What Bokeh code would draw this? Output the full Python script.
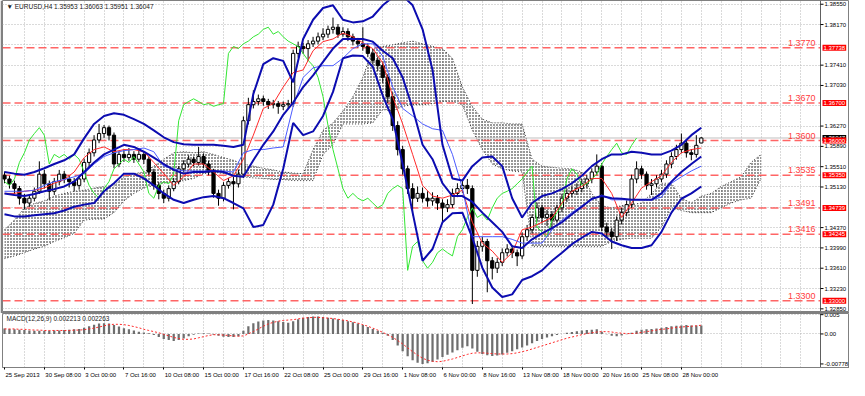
from bokeh.plotting import figure
from bokeh.layouts import column
from bokeh.models import Range1d, FixedTicker, Label, Grid, LinearAxis
from bokeh.core.properties import value
from bokeh.embed import file_html
from bokeh.resources import INLINE

FONT = "Liberation Sans"

chart_title = "\u25bc EURUSD,H4  1.35953 1.36063 1.35951 1.36047"
macd_title = "MACD(12,26,9) 0.002213 0.002263"

# ---- time axis (H4 bar index) ----
time_tick_bars = [0, 16, 32, 48, 64, 80, 96, 112, 128, 144, 160, 176, 192, 208, 224, 240, 256, 272]
time_tick_labels = ["25 Sep 2013", "30 Sep 08:00", "3 Oct 00:00", "7 Oct 16:00", "10 Oct 08:00",
                    "15 Oct 00:00", "17 Oct 16:00", "22 Oct 08:00", "25 Oct 00:00", "29 Oct 16:00",
                    "1 Nov 08:00", "6 Nov 00:00", "8 Nov 16:00", "13 Nov 08:00", "18 Nov 00:00",
                    "20 Nov 16:00", "25 Nov 08:00", "28 Nov 00:00"]
grid_bars = list(range(8, 328, 8))

# ---- price scale ----
price_ticks = [1.3855, 1.3817, 1.3741, 1.3703, 1.3627, 1.3589, 1.3551, 1.3513,
               1.3437, 1.3399, 1.3361, 1.3323, 1.3285]
price_grid = [1.3855, 1.3817, 1.3779, 1.3741, 1.3703, 1.3665, 1.3627, 1.3589, 1.3551,
              1.3513, 1.3475, 1.3437, 1.3399, 1.3361, 1.3323, 1.3285]
level_prices = [1.37738, 1.36700, 1.36000, 1.35350, 1.34739, 1.34245, 1.33000]
level_texts = ["1.3770", "1.3670", "1.3600", "1.3535", "1.3491", "1.3416", "1.3300"]
level_box_texts = ["1.37738", "1.36700", "1.36000", "1.35350", "1.34739", "1.34245", "1.33000"]
current_price = 1.36047
current_price_text = "1.36047"

# ---- candles (one candle per 2 H4 bars) ----
candle_open = [
    1.3535, 1.3528, 1.3519, 1.3510, 1.3492, 1.3483, 1.3492, 1.3505, 1.3537, 1.3519,
    1.3505, 1.3523, 1.3537, 1.3528, 1.3523, 1.3516, 1.3528, 1.3559, 1.3577, 1.3601,
    1.3613, 1.3624, 1.3610, 1.3556, 1.3574, 1.3568, 1.3574, 1.3565, 1.3574, 1.3565,
    1.3541, 1.3516, 1.3501, 1.3492, 1.3510, 1.3523, 1.3547, 1.3556, 1.3565, 1.3559,
    1.3570, 1.3556, 1.3541, 1.3501, 1.3492, 1.3516, 1.3523, 1.3519, 1.3537, 1.3637,
    1.3667, 1.3673, 1.3678, 1.3673, 1.3667, 1.3669, 1.3664, 1.3667, 1.3669, 1.3763,
    1.3776, 1.3772, 1.3781, 1.3786, 1.3794, 1.3799, 1.3808, 1.3812, 1.3799, 1.3804,
    1.3794, 1.3786, 1.3781, 1.3776, 1.3763, 1.3750, 1.3740, 1.3718, 1.3682, 1.3628,
    1.3583, 1.3547, 1.3510, 1.3492, 1.3501, 1.3492, 1.3487, 1.3492, 1.3483, 1.3474,
    1.3480, 1.3501, 1.3510, 1.3516, 1.3510, 1.3357, 1.3402, 1.3411, 1.3375, 1.3361,
    1.3372, 1.3390, 1.3397, 1.3390, 1.3384, 1.3420, 1.3433, 1.3456, 1.3474, 1.3456,
    1.3462, 1.3451, 1.3474, 1.3492, 1.3501, 1.3505, 1.3510, 1.3519, 1.3528, 1.3541,
    1.3552, 1.3438, 1.3429, 1.3420, 1.3451, 1.3465, 1.3480, 1.3528, 1.3547, 1.3537,
    1.3516, 1.3519, 1.3528, 1.3537, 1.3556, 1.3570, 1.3583, 1.3595, 1.3577, 1.3574,
    1.35953]
candle_high = [
    1.3542, 1.3534, 1.3525, 1.3515, 1.3500, 1.3498, 1.3512, 1.3561, 1.3545, 1.3525,
    1.3530, 1.3545, 1.3543, 1.3535, 1.3530, 1.3534, 1.3566, 1.3585, 1.3610, 1.3631,
    1.3629, 1.3628, 1.3615, 1.3580, 1.3583, 1.3586, 1.3580, 1.3583, 1.3580, 1.3570,
    1.3547, 1.3522, 1.3508, 1.3516, 1.3530, 1.3552, 1.3563, 1.3572, 1.3570, 1.3588,
    1.3576, 1.3562, 1.3547, 1.3508, 1.3522, 1.3530, 1.3532, 1.3545, 1.3645, 1.3680,
    1.3694, 1.3686, 1.3684, 1.3678, 1.3676, 1.3674, 1.3673, 1.3676, 1.3770, 1.3785,
    1.3783, 1.3788, 1.3794, 1.3802, 1.3810, 1.3815, 1.3830, 1.3818, 1.3812, 1.3810,
    1.3800, 1.3792, 1.3812, 1.3782, 1.3770, 1.3756, 1.3746, 1.3724, 1.3690, 1.3636,
    1.3590, 1.3553, 1.3520, 1.3514, 1.3512, 1.3505, 1.3503, 1.3498, 1.3490, 1.3490,
    1.3510, 1.3520, 1.3526, 1.3528, 1.3516, 1.3412, 1.3420, 1.3416, 1.3382, 1.3380,
    1.3398, 1.3406, 1.3404, 1.3396, 1.3428, 1.3442, 1.3462, 1.3484, 1.3480, 1.3470,
    1.3468, 1.3480, 1.3500, 1.3510, 1.3515, 1.3520, 1.3528, 1.3536, 1.3548, 1.3574,
    1.3558, 1.3446, 1.3436, 1.3458, 1.3474, 1.3488, 1.3536, 1.3561, 1.3553, 1.3542,
    1.3528, 1.3535, 1.3545, 1.3563, 1.3578, 1.3592, 1.3613, 1.3602, 1.3584, 1.3610,
    1.36063]
candle_low = [
    1.3520, 1.3510, 1.3500, 1.3480, 1.3471, 1.3476, 1.3486, 1.3500, 1.3510, 1.3489,
    1.3498, 1.3516, 1.3520, 1.3512, 1.3505, 1.3508, 1.3522, 1.3550, 1.3570, 1.3595,
    1.3605, 1.3600, 1.3548, 1.3550, 1.3560, 1.3562, 1.3558, 1.3560, 1.3556, 1.3535,
    1.3508, 1.3490, 1.3483, 1.3486, 1.3505, 1.3518, 1.3540, 1.3550, 1.3552, 1.3553,
    1.3548, 1.3535, 1.3493, 1.3478, 1.3486, 1.3510, 1.3471, 1.3512, 1.3530, 1.3630,
    1.3660, 1.3666, 1.3665, 1.3659, 1.3660, 1.3650, 1.3657, 1.3660, 1.3663, 1.3755,
    1.3762, 1.3749, 1.3775, 1.3780, 1.3788, 1.3792, 1.3800, 1.3792, 1.3794, 1.3786,
    1.3778, 1.3774, 1.3768, 1.3756, 1.3742, 1.3730, 1.3708, 1.3670, 1.3618, 1.3572,
    1.3536, 1.3500, 1.3460, 1.3485, 1.3484, 1.3476, 1.3478, 1.3470, 1.3447, 1.3466,
    1.3474, 1.3494, 1.3502, 1.3500, 1.3294, 1.3345, 1.3392, 1.3316, 1.3340, 1.3352,
    1.3365, 1.3383, 1.3380, 1.3365, 1.3378, 1.3412, 1.3426, 1.3448, 1.3446, 1.3440,
    1.3436, 1.3446, 1.3466, 1.3485, 1.3494, 1.3498, 1.3503, 1.3512, 1.3520, 1.3535,
    1.3430, 1.3418, 1.3397, 1.3412, 1.3443, 1.3458, 1.3474, 1.3520, 1.3528, 1.3508,
    1.3498, 1.3512, 1.3522, 1.3530, 1.3548, 1.3564, 1.3576, 1.3568, 1.3563, 1.3568,
    1.35951]
candle_close = [
    1.3528, 1.3519, 1.3510, 1.3492, 1.3483, 1.3492, 1.3505, 1.3537, 1.3519, 1.3505,
    1.3523, 1.3537, 1.3528, 1.3523, 1.3516, 1.3528, 1.3559, 1.3577, 1.3601, 1.3613,
    1.3624, 1.3610, 1.3556, 1.3574, 1.3568, 1.3574, 1.3565, 1.3574, 1.3565, 1.3541,
    1.3516, 1.3501, 1.3492, 1.3510, 1.3523, 1.3547, 1.3556, 1.3565, 1.3559, 1.3570,
    1.3556, 1.3541, 1.3501, 1.3492, 1.3516, 1.3523, 1.3519, 1.3537, 1.3637, 1.3667,
    1.3673, 1.3678, 1.3673, 1.3667, 1.3669, 1.3664, 1.3667, 1.3669, 1.3763, 1.3776,
    1.3772, 1.3781, 1.3786, 1.3794, 1.3799, 1.3808, 1.3812, 1.3799, 1.3804, 1.3794,
    1.3786, 1.3781, 1.3776, 1.3763, 1.3750, 1.3740, 1.3718, 1.3682, 1.3628, 1.3583,
    1.3547, 1.3510, 1.3492, 1.3501, 1.3492, 1.3487, 1.3492, 1.3483, 1.3474, 1.3480,
    1.3501, 1.3510, 1.3516, 1.3510, 1.3357, 1.3402, 1.3411, 1.3375, 1.3361, 1.3372,
    1.3390, 1.3397, 1.3390, 1.3384, 1.3420, 1.3433, 1.3456, 1.3474, 1.3456, 1.3462,
    1.3451, 1.3474, 1.3492, 1.3501, 1.3505, 1.3510, 1.3519, 1.3528, 1.3541, 1.3552,
    1.3438, 1.3429, 1.3420, 1.3451, 1.3465, 1.3480, 1.3528, 1.3547, 1.3537, 1.3516,
    1.3519, 1.3528, 1.3537, 1.3556, 1.3570, 1.3583, 1.3595, 1.3577, 1.3574, 1.3591,
    1.36047]
candle_bar = [2 * k for k in range(len(candle_close))]

# ---- indicator lines (sampled every 4 H4 bars) ----
bb_upper = [
    1.3541, 1.3538, 1.3536, 1.3541, 1.3548, 1.3556, 1.3563, 1.3574, 1.3604, 1.3631,
    1.3646, 1.3651, 1.3648, 1.3640, 1.3631, 1.3619, 1.3606, 1.3597, 1.3593, 1.3592,
    1.3592, 1.3592, 1.3590, 1.3588, 1.3592, 1.3687, 1.3743, 1.3754, 1.3749, 1.3709,
    1.3790, 1.3826, 1.3848, 1.3853, 1.3826, 1.3821, 1.3823, 1.3832, 1.3853, 1.3868,
    1.3871, 1.3853, 1.3808, 1.3732, 1.3592, 1.3529, 1.3525, 1.3552, 1.3568, 1.3570,
    1.3552, 1.3492, 1.3456, 1.3483, 1.3496, 1.3501, 1.3509, 1.3520, 1.3534, 1.3552,
    1.3565, 1.3574, 1.3574, 1.3579, 1.3577, 1.3574, 1.3574, 1.3581, 1.3592, 1.3610, 1.3624]
bb_middle = [
    1.3501, 1.3498, 1.3496, 1.3500, 1.3505, 1.3509, 1.3514, 1.3523, 1.3541, 1.3559,
    1.3574, 1.3583, 1.3592, 1.3588, 1.3579, 1.3568, 1.3556, 1.3545, 1.3538, 1.3541,
    1.3541, 1.3543, 1.3541, 1.3534, 1.3532, 1.3563, 1.3592, 1.3617, 1.3648, 1.3671,
    1.3700, 1.3722, 1.3747, 1.3772, 1.3790, 1.3790, 1.3790, 1.3785, 1.3768, 1.3754,
    1.3718, 1.3660, 1.3592, 1.3565, 1.3520, 1.3496, 1.3496, 1.3485, 1.3465, 1.3447,
    1.3429, 1.3402, 1.3399, 1.3415, 1.3426, 1.3436, 1.3447, 1.3462, 1.3476, 1.3491,
    1.3496, 1.3492, 1.3491, 1.3489, 1.3489, 1.3489, 1.3501, 1.3523, 1.3541, 1.3556, 1.3570]
bb_lower = [
    1.3462, 1.3458, 1.3458, 1.3460, 1.3462, 1.3464, 1.3469, 1.3476, 1.3480, 1.3483,
    1.3505, 1.3520, 1.3538, 1.3538, 1.3529, 1.3516, 1.3501, 1.3489, 1.3483, 1.3489,
    1.3494, 1.3496, 1.3492, 1.3483, 1.3473, 1.3438, 1.3442, 1.3480, 1.3547, 1.3633,
    1.3610, 1.3617, 1.3646, 1.3691, 1.3754, 1.3759, 1.3758, 1.3738, 1.3684, 1.3640,
    1.3556, 1.3465, 1.3375, 1.3397, 1.3447, 1.3464, 1.3465, 1.3418, 1.3362, 1.3325,
    1.3307, 1.3312, 1.3339, 1.3346, 1.3357, 1.3375, 1.3390, 1.3406, 1.3418, 1.3429,
    1.3426, 1.3411, 1.3404, 1.3399, 1.3399, 1.3404, 1.3429, 1.3465, 1.3491, 1.3501, 1.3514]
tenkan = [
    1.3501, 1.3501, 1.3505, 1.3507, 1.3511, 1.3520, 1.3527, 1.3541, 1.3568, 1.3583,
    1.3588, 1.3579, 1.3583, 1.3583, 1.3579, 1.3559, 1.3538, 1.3516, 1.3532, 1.3556,
    1.3556, 1.3541, 1.3525, 1.3534, 1.3565, 1.3610, 1.3660, 1.3669, 1.3700, 1.3727,
    1.3732, 1.3768, 1.3785, 1.3790, 1.3801, 1.3794, 1.3783, 1.3772, 1.3745, 1.3682,
    1.3631, 1.3574, 1.3516, 1.3496, 1.3492, 1.3498, 1.3507, 1.3447, 1.3408, 1.3393,
    1.3372, 1.3390, 1.3433, 1.3438, 1.3447, 1.3456, 1.3483, 1.3505, 1.3514, 1.3529,
    1.3529, 1.3501, 1.3456, 1.3483, 1.3511, 1.3523, 1.3534, 1.3559, 1.3577, 1.3583, 1.3586]
kijun = [
    1.3505, 1.3505, 1.3505, 1.3507, 1.3516, 1.3523, 1.3527, 1.3532, 1.3538, 1.3556,
    1.3570, 1.3577, 1.3581, 1.3583, 1.3586, 1.3579, 1.3552, 1.3547, 1.3543, 1.3543,
    1.3543, 1.3543, 1.3543, 1.3541, 1.3577, 1.3583, 1.3583, 1.3586, 1.3588, 1.3664,
    1.3718, 1.3736, 1.3740, 1.3740, 1.3754, 1.3772, 1.3781, 1.3781, 1.3758, 1.3700,
    1.3660, 1.3646, 1.3631, 1.3622, 1.3619, 1.3574, 1.3511, 1.3420, 1.3420, 1.3420,
    1.3420, 1.3415, 1.3408, 1.3408, 1.3408, 1.3433, 1.3451, 1.3465, 1.3478, 1.3489,
    1.3498, 1.3489, 1.3489, 1.3489, 1.3489, 1.3489, 1.3494, 1.3520, 1.3532, 1.3543, 1.3552]
ind_bar = [4 * j for j in range(len(bb_upper))]

# ---- Ichimoku cloud edges (every 4 bars, projected 26 bars ahead) ----
cloud_top = [
    1.3433, 1.3451, 1.3474, 1.3482, 1.3487, 1.3496, 1.3501, 1.3505, 1.3507, 1.3511,
    1.3514, 1.3516, 1.3532, 1.3538, 1.3541, 1.3552, 1.3565, 1.3577, 1.3579, 1.3577,
    1.3579, 1.3574, 1.3568, 1.3563, 1.3556, 1.3552, 1.3548, 1.3545, 1.3541, 1.3539,
    1.3538, 1.3583, 1.3619, 1.3633, 1.3655, 1.3682, 1.3718, 1.3772, 1.3776, 1.3779,
    1.3783, 1.3786, 1.3781, 1.3776, 1.3772, 1.3754, 1.3700, 1.3664, 1.3640, 1.3633,
    1.3633, 1.3631, 1.3631, 1.3565, 1.3552, 1.3550, 1.3548, 1.3547, 1.3541, 1.3501,
    1.3478, 1.3474, 1.3478, 1.3480, 1.3483, 1.3501, 1.3520, 1.3520, 1.3492, 1.3483,
    1.3496, 1.3501, 1.3514, 1.3523, 1.3532, 1.3559, 1.3574]
cloud_bottom = [
    1.3379, 1.3384, 1.3390, 1.3397, 1.3402, 1.3411, 1.3418, 1.3426, 1.3451, 1.3453,
    1.3453, 1.3465, 1.3487, 1.3501, 1.3511, 1.3516, 1.3520, 1.3523, 1.3525, 1.3529,
    1.3538, 1.3541, 1.3538, 1.3534, 1.3532, 1.3530, 1.3529, 1.3527, 1.3527, 1.3525,
    1.3525, 1.3525, 1.3574, 1.3592, 1.3631, 1.3631, 1.3631, 1.3633, 1.3658, 1.3655,
    1.3664, 1.3667, 1.3667, 1.3669, 1.3673, 1.3673, 1.3667, 1.3619, 1.3583, 1.3556,
    1.3547, 1.3543, 1.3541, 1.3402, 1.3402, 1.3402, 1.3402, 1.3402, 1.3402, 1.3402,
    1.3402, 1.3411, 1.3415, 1.3417, 1.3417, 1.3417, 1.3438, 1.3474, 1.3469, 1.3465,
    1.3465, 1.3465, 1.3474, 1.3483, 1.3489, 1.3492, 1.3529]
cloud_bar = [4 * j for j in range(len(cloud_top))]

CHIKOU_SHIFT = 26  # lagging span drawn 26 bars back

# ---- MACD (units of 1e-4), one value per candle ----
macd_main_e4 = [
    14, 13, 12, 11, 10, 9, 8, 8, 8, 8,
    9, 9, 10, 11, 12, 13, 16, 20, 24, 27,
    28, 27, 23, 19, 15, 12, 9, 6, 4, 2,
    -3, -8, -13, -16, -18, -16, -12, -6, -2, 1,
    2, 1, -2, -5, -7, -8, -8, -6, 8, 20,
    28, 32, 35, 36, 35, 33, 31, 29, 33, 38,
    42, 44, 45, 45, 44, 42, 40, 38, 36, 33,
    30, 27, 23, 18, 13, 8, 3, -5, -16, -30,
    -45, -58, -68, -75, -78, -76, -72, -66, -60, -54,
    -48, -42, -36, -32, -38, -46, -52, -55, -57, -56,
    -53, -49, -45, -40, -35, -30, -24, -18, -13, -9,
    -6, -3, 0, 3, 5, 7, 9, 10, 11, 12,
    6, -1, -5, -6, -4, -1, 3, 8, 11, 12,
    13, 14, 16, 18, 20, 21, 22, 23, 22, 22,
    22.13]
macd_signal_e4 = [
    13, 13, 13, 12, 12, 11, 10, 10, 9, 9,
    9, 9, 9, 9, 10, 10, 11, 13, 15, 18,
    21, 24, 25, 25, 24, 22, 19, 16, 12, 9,
    6, 3, -1, -5, -9, -12, -14, -14, -13, -10,
    -7, -4, -2, -2, -3, -4, -5, -6, -5, 0,
    6, 13, 20, 26, 30, 33, 35, 36, 37, 39,
    41, 42, 43, 43, 42, 41, 40, 38, 36, 34,
    31, 28, 24, 20, 15, 10, 4, -2, -9, -17,
    -26, -36, -46, -55, -63, -68, -71, -72, -71, -68,
    -65, -61, -57, -53, -50, -49, -49, -50, -51, -52,
    -52, -52, -51, -49, -46, -43, -39, -35, -31, -27,
    -23, -19, -15, -11, -8, -5, -2, 1, 3, 5,
    6, 6, 5, 3, 2, 1, 1, 2, 4, 6,
    8, 10, 12, 13, 15, 17, 18, 19, 20, 21,
    22.63]
macd_main = [v * 1e-4 for v in macd_main_e4]
macd_signal = [v * 1e-4 for v in macd_signal_e4]
macd_ticks = [0.005, 0.0, -0.00778]
macd_tick_labels = ["0.005", "0.00", "-0.00778"]

# ================= layout constants =================
W = 849
FRAME_W = W - 2            # frame spans the whole width; price scale lives in a strip on the right
X0 = -0.8                  # left edge (bars)
X_AXIS = 327.9             # position of the price-scale line (bars)
PX_PER_BAR = 818.0 / (X_AXIS - X0)
X_END = X0 + FRAME_W / PX_PER_BAR
P_LO, P_HI = 1.3280, 1.3862
M_LO, M_HI = -0.0087, 0.0053
GRID_COLOR = "#B4B4B4"
FRAME_COLOR = "#808080"
AXIS_COLOR = "#606060"
LEVEL_COLOR = "#FF4A4A"


def style_fig(fig, border="white"):
    fig.outline_line_color = FRAME_COLOR
    fig.outline_line_width = 1
    fig.background_fill_color = "white"
    fig.border_fill_color = border
    fig.grid.visible = False


def price_scale(fig, ticks, labels, lo, hi):
    """Scale strip on the right of the frame: line, tick marks and labels."""
    fig.segment(x0=[X_AXIS], y0=[lo], x1=[X_AXIS], y1=[hi], line_color=AXIS_COLOR, line_width=1)
    fig.segment(x0=[X_AXIS] * len(ticks), y0=ticks, x1=[X_AXIS + 1.2] * len(ticks), y1=ticks,
                line_color="#000000", line_width=1)
    fig.text(x=[X_AXIS] * len(ticks), y=ticks, text=labels, x_offset=4, text_align="left",
             text_baseline="middle", text_font=value(FONT), text_font_size=value("6px"),
             text_color="#000000")


# ================= price panel =================
p = figure(width=W, height=313, x_range=Range1d(X0, X_END), y_range=Range1d(P_LO, P_HI),
           x_axis_location=None, y_axis_location=None, output_backend="svg",
           toolbar_location=None, min_border_left=2, min_border_right=0,
           min_border_top=0, min_border_bottom=2)
style_fig(p, border=FRAME_COLOR)
p.add_layout(Grid(dimension=0, ticker=FixedTicker(ticks=grid_bars), grid_line_color=GRID_COLOR,
                  grid_line_dash="1 2"))
p.add_layout(Grid(dimension=1, ticker=FixedTicker(ticks=price_grid), grid_line_color=GRID_COLOR,
                  grid_line_dash="1 2", cross_bounds=(X0, X_AXIS)))

# cloud
p.varea(x=cloud_bar, y1=cloud_top, y2=cloud_bottom, fill_alpha=0,
        hatch_pattern="dot", hatch_color="#000000", hatch_scale=3, hatch_weight=1.4, hatch_alpha=1.0)
p.line(cloud_bar, cloud_top, line_color="#333333", line_dash="1 2", line_width=1)
p.line(cloud_bar, cloud_bottom, line_color="#333333", line_dash="1 2", line_width=1)

# current price line and horizontal levels
p.segment(x0=[X0], y0=[current_price], x1=[X_AXIS], y1=[current_price], line_color="#C0C0C0", line_width=1)
p.segment(x0=[X0] * len(level_prices), y0=level_prices, x1=[X_AXIS] * len(level_prices), y1=level_prices,
          line_color=LEVEL_COLOR, line_alpha=0.85, line_dash="8 4", line_width=1.5)

# candles
bull = [i for i in range(len(candle_close)) if candle_close[i] >= candle_open[i]]
bear = [i for i in range(len(candle_close)) if candle_close[i] < candle_open[i]]
p.segment(x0=candle_bar, y0=candle_low, x1=candle_bar, y1=candle_high, line_color="#000000", line_width=1)
p.vbar(x=[candle_bar[i] for i in bull], width=1.3, top=[candle_close[i] for i in bull],
       bottom=[candle_open[i] for i in bull], fill_color="white", line_color="#000000", line_width=1)
p.vbar(x=[candle_bar[i] for i in bear], width=1.3, top=[candle_open[i] for i in bear],
       bottom=[candle_close[i] for i in bear], fill_color="#000000", line_color="#000000", line_width=1)

# chikou span (closes drawn 26 bars back)
chik_x = [b - CHIKOU_SHIFT for b in candle_bar if b - CHIKOU_SHIFT >= 0]
chik_y = [c for b, c in zip(candle_bar, candle_close) if b - CHIKOU_SHIFT >= 0]
p.line(chik_x, chik_y, line_color="#33E633", line_width=1)

# tenkan / kijun
p.line(ind_bar, tenkan, line_color="#FF2A2A", line_width=1)
p.line(ind_bar, kijun, line_color="#4B5BFF", line_width=1)

# bollinger bands
for band in (bb_upper, bb_middle, bb_lower):
    p.line(ind_bar, band, line_color="#0C0CB0", line_width=2)

# level captions
for lv, txt in zip(level_prices, level_texts):
    p.add_layout(Label(x=X_AXIS, y=lv, x_offset=-5, y_offset=2, text=txt, text_align="right",
                       text_baseline="bottom", text_color="#FF3C3C", text_font=FONT,
                       text_font_size="9px"))

# price scale + boxed prices
price_scale(p, price_ticks, ["%.5f" % t for t in price_ticks], P_LO, P_HI)
p.add_layout(Label(x=X_AXIS, y=current_price, x_offset=2, text=current_price_text, text_align="left",
                   text_baseline="middle", text_color="white", text_font=FONT, text_font_size="6px",
                   background_fill_color="#000000", padding=1))
for lv, txt in zip(level_prices, level_box_texts):
    p.add_layout(Label(x=X_AXIS, y=lv, x_offset=2, text=txt, text_align="left",
                       text_baseline="middle", text_color="white", text_font=FONT, text_font_size="6px",
                       background_fill_color="#FF0000", padding=1))

p.add_layout(Label(x=0.8, y=1.3851, text=chart_title, text_align="left", text_baseline="middle",
                   text_color="#202020", text_font=FONT, text_font_size="6.5px"))

# ================= MACD panel =================
p2 = figure(width=W, height=67, x_range=p.x_range, y_range=Range1d(M_LO, M_HI),
            x_axis_location=None, y_axis_location=None, output_backend="svg", toolbar_location=None,
            min_border_left=2, min_border_right=0, min_border_top=0, min_border_bottom=0)
style_fig(p2)
p2.add_layout(Grid(dimension=0, ticker=FixedTicker(ticks=grid_bars), grid_line_color=GRID_COLOR,
                   grid_line_dash="1 2"))
p2.add_layout(Grid(dimension=1, ticker=FixedTicker(ticks=[0.005, 0.0]), grid_line_color=GRID_COLOR,
                   grid_line_dash="1 2", cross_bounds=(X0, X_AXIS)))

p2.vbar(x=candle_bar, width=0.9, top=macd_main, bottom=0, fill_color="#6E6E6E", line_color=None)
p2.line(candle_bar, macd_signal, line_color="#FF2A2A", line_dash="2 2", line_width=1)
p2.add_layout(Label(x=0.8, y=0.0040, text=macd_title, text_align="left", text_baseline="middle",
                    text_color="#202020", text_font=FONT, text_font_size="6.5px"))
price_scale(p2, macd_ticks, macd_tick_labels, M_LO, M_HI)

# time axis: captions start at their tick (MT4 style); tick marks drawn as minor ticks
CHAR_EM = {" ": 0.278, ":": 0.278, ".": 0.278, "S": 0.667, "O": 0.778, "N": 0.722,
           "e": 0.556, "p": 0.556, "o": 0.556, "c": 0.5, "t": 0.278, "v": 0.5}


def caption_center(bar, txt, size=6.0):
    width_px = sum(CHAR_EM.get(ch, 0.556) for ch in txt) * size
    return round(bar + (width_px / 2.0 + 1.0) / PX_PER_BAR, 3)


caption_pos = [caption_center(b, t) for b, t in zip(time_tick_bars, time_tick_labels)]
time_axis = LinearAxis(ticker=FixedTicker(ticks=caption_pos, minor_ticks=time_tick_bars),
                       axis_line_color=FRAME_COLOR,
                       major_tick_line_color=None, major_tick_out=0, major_tick_in=0,
                       minor_tick_line_color="#000000", minor_tick_out=2, minor_tick_in=0,
                       major_label_standoff=2,
                       major_label_text_font=FONT, major_label_text_font_size="6px",
                       major_label_text_color="#000000",
                       major_label_overrides=dict(zip(caption_pos, time_tick_labels)))
p2.add_layout(time_axis, "below")

layout = column(p, p2, spacing=0)
open("out.html", "w").write(file_html(layout, INLINE, "EURUSD H4"))
